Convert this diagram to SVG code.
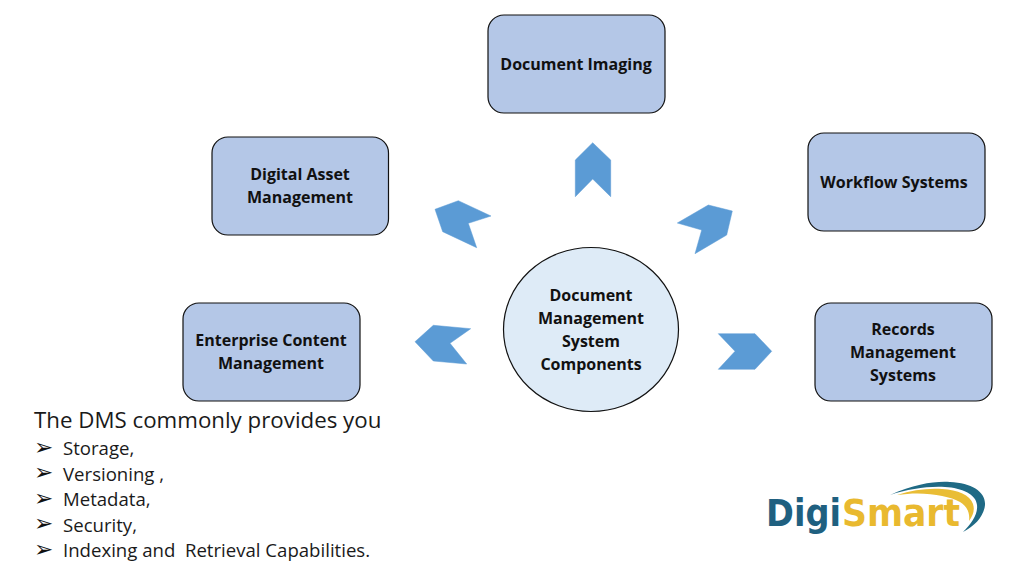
<svg xmlns="http://www.w3.org/2000/svg" width="1024" height="576" viewBox="0 0 1024 576">
<style>
.box{fill:#b4c7e7;stroke:#111;stroke-width:1.2}
.lab{font-family:"Open Sans","Liberation Sans",sans-serif;font-weight:700;font-size:16px;fill:#111;text-anchor:middle}
.arr{fill:#5b9bd5;stroke:#5b9bd5;stroke-width:.5}
.list{font-family:"Open Sans","Liberation Sans",sans-serif;font-size:18.6px;fill:#1a1a1a}
.bul{font-family:"DejaVu Sans",sans-serif;font-size:23px;fill:#111}
</style>
<rect width="1024" height="576" fill="#fff"/>
<g id="connectors">
<polygon class="arr" points="592.7,142.7 610.7,160 610.7,196.7 592.7,179 575.3,196.7 575.3,160"/>
<polygon class="arr" points="435,209.3 458.3,200.7 491,216 468.3,223.3 476.7,247.7 442.7,231.7"/>
<polygon class="arr" points="732.3,211 708.3,205 677.3,223 701.7,230 695,253.7 726.7,235"/>
<polygon class="arr" points="415,341.7 433.3,325.3 470.7,328.7 450,343.3 466.7,364 433.3,361"/>
<polygon class="arr" points="718.3,333.7 755,333.7 771.7,351.3 755,369.3 718.3,369.3 735,351.3"/>
</g>
<g id="node-imaging"><rect class="box" x="488" y="15" width="177" height="98" rx="16"/><text class="lab" x="576" y="70">Document Imaging</text></g>
<g id="node-dam"><rect class="box" x="212" y="137" width="176.500" height="98" rx="16"/><text class="lab" x="300" y="180">Digital Asset</text><text class="lab" x="300" y="203">Management</text></g>
<g id="node-workflow"><rect class="box" x="808" y="133" width="177" height="98" rx="16"/><text class="lab" x="894" y="188">Workflow Systems</text></g>
<g id="node-ecm"><rect class="box" x="183" y="303" width="177" height="98" rx="16"/><text class="lab" x="271" y="346">Enterprise Content</text><text class="lab" x="271" y="369">Management</text></g>
<g id="node-records"><rect class="box" x="815" y="303" width="177" height="98" rx="16"/><text class="lab" x="903" y="335">Records</text><text class="lab" x="903" y="358">Management</text><text class="lab" x="903" y="381">Systems</text></g>
<g id="node-center"><ellipse cx="591" cy="329.500" rx="87.500" ry="82" fill="#deebf7" stroke="#111" stroke-width="1.200"/><text class="lab" x="591" y="301">Document</text><text class="lab" x="591" y="324">Management</text><text class="lab" x="591" y="347">System</text><text class="lab" x="591" y="370">Components</text></g>
<g id="list">
<text x="34" y="428" font-family="'Open Sans','Liberation Sans',sans-serif" font-size="22.300" fill="#1a1a1a">The DMS commonly provides you</text>
<text class="bul" x="34" y="455">➢</text><text class="list" x="63" y="455">Storage,</text>
<text class="bul" x="34" y="480">➢</text><text class="list" x="63" y="480.500">Versioning ,</text>
<text class="bul" x="34" y="506">➢</text><text class="list" x="63" y="506">Metadata,</text>
<text class="bul" x="34" y="531">➢</text><text class="list" x="63" y="531.500">Security,</text>
<text class="bul" x="34" y="557">➢</text><text class="list" x="63" y="557" xml:space="preserve">Indexing and  Retrieval Capabilities.</text>
</g>
<g id="logo">
<path d="M890,495 C915,484 935,481 950,482 C972,483 986,492 985,505 C984,516 975,526 963,532 C972,523 978,514 977,505 C976,494 962,488 945,487 C928,486 908,489 890,495Z" fill="#1f6a85"/>
<path d="M897,495 C912,490 928,488 942,489 C958,490 970,495 973,504 C975,510 973,516 969,521 C970,514 968,507 960,502 C948,495 922,491 897,495Z" fill="#e9bd35"/>
<text x="766" y="525.500" font-family="'DejaVu Sans',sans-serif" font-weight="700" font-size="37" textLength="75" lengthAdjust="spacingAndGlyphs" fill="#1f6080">Digi</text>
<text x="842" y="525.500" font-family="'DejaVu Sans',sans-serif" font-weight="700" font-size="37" textLength="118" lengthAdjust="spacingAndGlyphs" fill="#e9b92f">Smart</text>
</g>
</svg>
